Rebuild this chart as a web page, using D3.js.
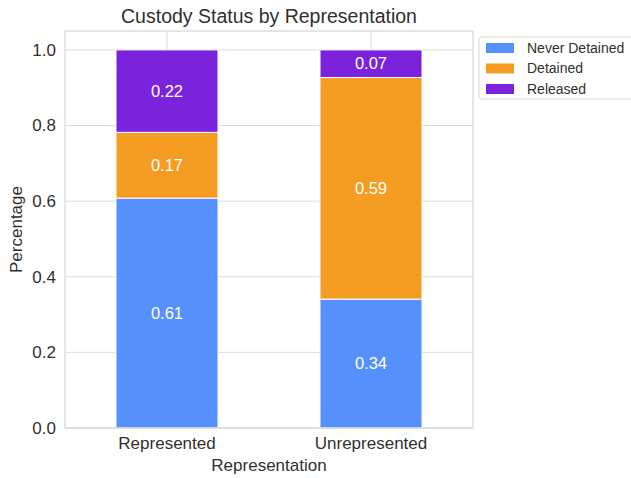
<!DOCTYPE html>
<html>
<head>
<meta charset="utf-8">
<script src="https://cdn.jsdelivr.net/npm/d3@7"></script>
<style>
  body { margin: 0; background: #fff; }
  text { font-family: "Liberation Sans", Arial, sans-serif; fill: #303030; }
</style>
</head>
<body>
<div id="chart"></div>
<script>
// data
var categories = ["Represented", "Unrepresented"];
var statuses = ["Never Detained", "Detained", "Released"];
var neverDetained = [0.608, 0.341];
var detained = [0.174, 0.586];
var released = [0.218, 0.073];
var yTicks = [0.0, 0.2, 0.4, 0.6, 0.8, 1.0];
var colors = ["#5590fc", "#f59c22", "#7b22dc"];

var W = 631, H = 478;
var margin = {top: 31, right: 158, bottom: 50, left: 65},
    width = W - margin.left - margin.right,
    height = H - margin.top - margin.bottom;

var svg = d3.select("#chart").append("svg")
    .attr("width", W).attr("height", H);
var g = svg.append("g")
    .attr("transform", "translate(" + margin.left + "," + margin.top + ")");

var x = d3.scaleLinear().domain([-0.5, 1.5]).range([0, width]);
var y = d3.scaleLinear().domain([0, 1.05]).range([height, 0]);

// grid
g.append("g").selectAll("line.h").data(yTicks).enter().append("line")
    .attr("x1", 0).attr("x2", width)
    .attr("y1", function(d) { return y(d); }).attr("y2", function(d) { return y(d); })
    .attr("stroke", "#dcdcdc").attr("stroke-width", 1);
g.append("g").selectAll("line.v").data(categories).enter().append("line")
    .attr("y1", 0).attr("y2", height)
    .attr("x1", function(d, i) { return x(i); }).attr("x2", function(d, i) { return x(i); })
    .attr("stroke", "#dcdcdc").attr("stroke-width", 1);

// stacked data
var rows = categories.map(function(c, i) {
  return {cat: c, i: i, "Never Detained": neverDetained[i], "Detained": detained[i], "Released": released[i]};
});
var stack = d3.stack().keys(statuses)(rows);
var bw = x(0.25) - x(0);

var layer = g.selectAll("g.layer").data(stack).enter().append("g")
    .attr("fill", function(d, k) { return colors[k]; });
layer.selectAll("rect").data(function(d) { return d; }).enter().append("rect")
    .attr("x", function(d) { return x(d.data.i) - bw; })
    .attr("width", bw * 2)
    .attr("y", function(d) { return y(d[1]); })
    .attr("height", function(d) { return y(d[0]) - y(d[1]); })
    .attr("stroke", "#fff").attr("stroke-width", 1);
layer.selectAll("text").data(function(d) { return d; }).enter().append("text")
    .attr("x", function(d) { return x(d.data.i); })
    .attr("y", function(d) { return y((d[0] + d[1]) / 2); })
    .attr("text-anchor", "middle").attr("dy", "0.35em")
    .style("fill", "#fff").style("font-size", "16.5px")
    .text(function(d) { return (d[1] - d[0]).toFixed(2); });

// spines
g.append("rect").attr("width", width).attr("height", height)
    .attr("fill", "none").attr("stroke", "#d6d6d6").attr("stroke-width", 1.2);

// y tick labels
g.append("g").selectAll("text").data(yTicks).enter().append("text")
    .attr("x", -9).attr("y", function(d) { return y(d); })
    .attr("dy", "0.35em").attr("text-anchor", "end")
    .style("font-size", "17px")
    .text(function(d) { return d.toFixed(1); });

// x tick labels
g.append("g").selectAll("text").data(categories).enter().append("text")
    .attr("x", function(d, i) { return x(i); }).attr("y", height + 21)
    .attr("text-anchor", "middle").style("font-size", "17px")
    .text(function(d) { return d; });

// axis titles
g.append("text").attr("x", width / 2).attr("y", height + 43)
    .attr("text-anchor", "middle").style("font-size", "17px").text("Representation");
g.append("text").attr("transform", "translate(-43," + (height / 2) + ") rotate(-90)")
    .attr("text-anchor", "middle").style("font-size", "17px").text("Percentage");
g.append("text").attr("x", width / 2).attr("y", -8)
    .attr("text-anchor", "middle").style("font-size", "19.5px").text("Custody Status by Representation");

// legend
var lg = svg.append("g").attr("transform", "translate(479,37)");
lg.append("rect").attr("width", 160).attr("height", 62).attr("rx", 3)
    .attr("fill", "#fff").attr("stroke", "#d6d6d6");
var item = lg.selectAll("g.item").data(statuses).enter().append("g")
    .attr("transform", function(d, k) { return "translate(7," + (11 + k * 20.5) + ")"; });
item.append("rect").attr("y", -5).attr("width", 28).attr("height", 10)
    .attr("fill", function(d, k) { return colors[k]; });
item.append("text").attr("x", 41).attr("dy", "0.35em")
    .style("font-size", "14px").text(function(d) { return d; });
</script>
</body>
</html>
